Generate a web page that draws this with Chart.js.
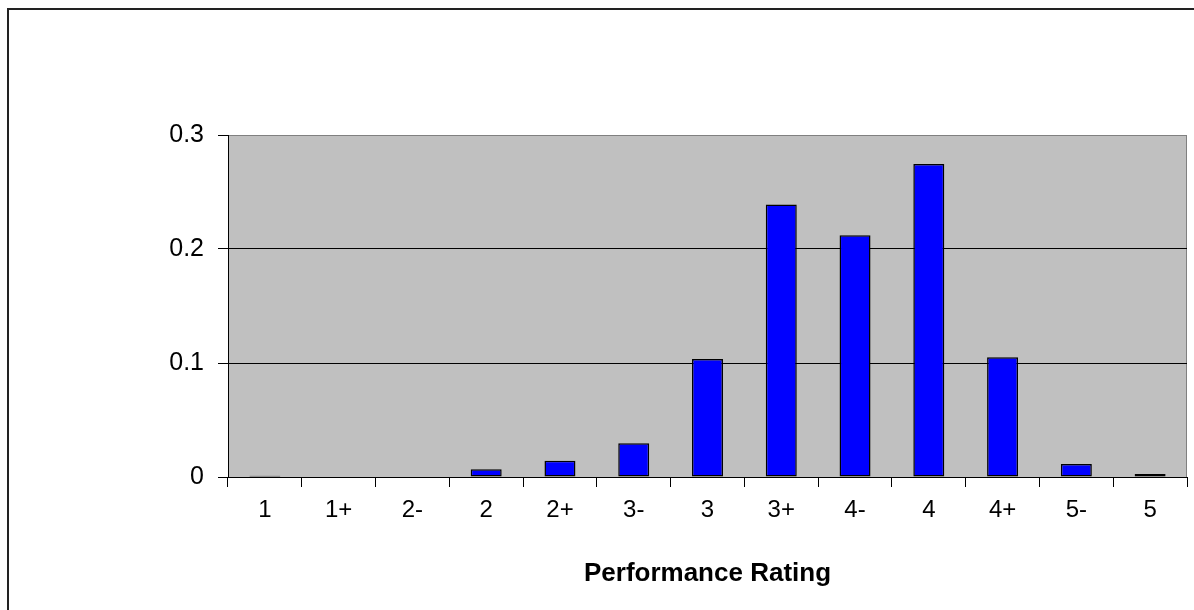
<!DOCTYPE html>
<html>
<head>
<meta charset="utf-8">
<script src="https://cdn.jsdelivr.net/npm/chart.js@4"></script>
<style>
    html, body { margin: 0; padding: 0; background: #fff; overflow: hidden; }
    #wrap { position: relative; width: 1194px; height: 610px; }
    #frame {
        position: absolute; left: 7px; top: 8px; width: 1200px; height: 620px;
        border-left: 2px solid #222; border-top: 2px solid #222;
    }
    canvas { position: absolute; left: 0; top: 0; }
</style>
</head>
<body>
<div id="wrap">
    <div id="frame"></div>
    <canvas id="ratingChart" width="1194" height="610"></canvas>
</div>
<script>
const ratings = ["1", "1+", "2-", "2", "2+", "3-", "3", "3+", "4-", "4", "4+", "5-", "5"];
const shares = [0.001, 0, 0, 0.0067, 0.0143, 0.0296, 0.1035, 0.239, 0.212, 0.2746, 0.105, 0.0114, 0.0026];
const yTicks = [0, 0.1, 0.2, 0.3];

// gray plot background plus the lighter right edge
const plotBackground = {
    id: "plotBackground",
    beforeDraw(chart) {
        const { ctx, chartArea: a } = chart;
        ctx.save();
        ctx.fillStyle = "#C0C0C0";
        ctx.fillRect(a.left, a.top, a.right - a.left, a.bottom - a.top);
        ctx.strokeStyle = "#808080";
        ctx.lineWidth = 1;
        ctx.beginPath();
        ctx.moveTo(a.right - 0.5, a.top);
        ctx.lineTo(a.right - 0.5, a.bottom);
        ctx.stroke();
        ctx.restore();
    }
};

const ctx = document.getElementById("ratingChart").getContext("2d");
new Chart(ctx, {
    type: "bar",
    data: {
        labels: ratings,
        datasets: [{
            data: shares,
            backgroundColor: "#0000FF",
            borderColor: "#000000",
            borderWidth: 1.5,
            borderSkipped: false,
            barPercentage: 0.42,
            categoryPercentage: 1
        }]
    },
    plugins: [plotBackground],
    options: {
        responsive: false,
        animation: false,
        layout: { padding: { left: 0, top: 135, right: 7, bottom: 0 } },
        plugins: {
            legend: { display: false },
            tooltip: { enabled: false }
        },
        scales: {
            x: {
                grid: {
                    offset: true,
                    drawOnChartArea: false,
                    drawTicks: true,
                    tickLength: 10,
                    color: "#000"
                },
                border: { color: "#000", width: 1 },
                ticks: {
                    color: "#000",
                    padding: 9,
                    font: { family: "Liberation Sans, Arial", size: 24 }
                },
                title: {
                    display: true,
                    text: "Performance Rating",
                    color: "#000",
                    padding: { top: 0, bottom: 21 },
                    font: { family: "Liberation Sans, Arial", size: 26, weight: "bold" }
                },
                afterFit(scale) { scale.height = 133; }
            },
            y: {
                min: 0,
                max: 0.3,
                afterBuildTicks(scale) { scale.ticks = yTicks.map(v => ({ value: v })); },
                grid: {
                    color: c => (c.tick && c.tick.value === 0.3) ? "#808080" : "#000",
                    lineWidth: 1,
                    tickLength: 10,
                    tickColor: "#000"
                },
                border: { color: "#000", width: 1 },
                ticks: {
                    color: "#000",
                    padding: 14,
                    font: { family: "Liberation Sans, Arial", size: 25 },
                    callback: v => String(Math.round(v * 10) / 10)
                },
                afterFit(scale) { scale.width = 228; }
            }
        }
    }
});
</script>
</body>
</html>
